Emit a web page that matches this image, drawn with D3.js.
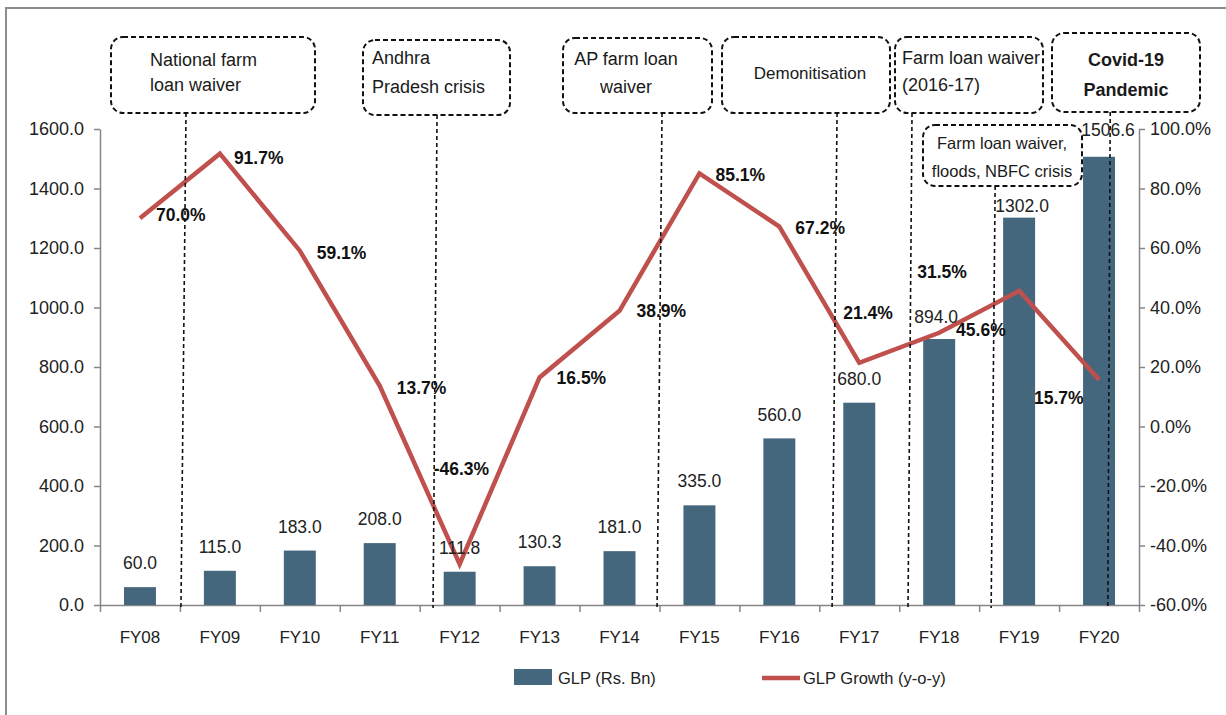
<!DOCTYPE html>
<html>
<head>
<meta charset="utf-8">
<script src="https://cdn.jsdelivr.net/npm/d3@7"></script>
<style>
  body { margin: 0; background: #fff; }
  svg { display: block; font-family: "Liberation Sans", Arial, sans-serif; }
  .axis path, .axis line { stroke: #868686; stroke-width: 1.5; }
  .axis text { fill: #222; font-size: 18px; }
</style>
</head>
<body>
<div id="chart"></div>
<script>
var categories = ["FY08", "FY09", "FY10", "FY11", "FY12", "FY13", "FY14", "FY15", "FY16", "FY17", "FY18", "FY19", "FY20"];
var glp = [60.0, 115.0, 183.0, 208.0, 111.8, 130.3, 181.0, 335.0, 560.0, 680.0, 894.0, 1302.0, 1506.6];
var growth = [70.0, 91.7, 59.1, 13.7, -46.3, 16.5, 38.9, 85.1, 67.2, 21.4, 31.5, 45.6, 15.7];
var leftTicks = [0, 200, 400, 600, 800, 1000, 1200, 1400, 1600];
var rightTicks = [-60, -40, -20, 0, 20, 40, 60, 80, 100];
var seriesNames = ["GLP (Rs. Bn)", "GLP Growth (y-o-y)"];

// event call-outs: text, box, and where the dashed line meets the axis (in category units)
var events = [
    { text: ["National farm", "loan waiver"], box: [111, 37, 204, 76], tx: 150, anchor: "start", ty: [60, 85], size: 18, top: 1.076, bottom: 1.013 },
    { text: ["Andhra", "Pradesh crisis"], box: [363, 40, 147, 75], tx: 372, anchor: "start", ty: [58, 87], size: 18, top: 4.217, bottom: 4.167 },
    { text: ["AP farm loan", "waiver"], box: [563, 38, 149, 75], tx: 626, anchor: "middle", ty: [59, 87], size: 18, top: 7.032, bottom: 6.97 },
    { text: ["Demonitisation"], box: [722, 37, 168, 76], tx: 810, anchor: "middle", ty: [73], size: 17, top: 9.222, bottom: 9.16 },
    { text: ["Farm loan waiver", "(2016-17)"], box: [895, 37, 148, 76], tx: 902, anchor: "start", ty: [58, 85], size: 18, top: 10.16, bottom: 10.11 },
    { text: ["Farm loan waiver,", "floods, NBFC crisis"], box: [923, 125, 159, 61], tx: 1002, anchor: "middle", ty: [143, 171], size: 16.5, top: 11.2, bottom: 11.15 },
    { text: ["Covid-19", "Pandemic"], box: [1052, 33, 148, 79], tx: 1126, anchor: "middle", ty: [60, 90], size: 18, bold: true, top: 12.64, bottom: 12.61 }
];

// label nudges for the growth line (dx, dy from the point)
var growthLabelOffset = [[16, -3], [14, 4], [17, 2], [17, 2], [-26, -95], [17, 0], [17, 0],
                         [16, 2], [16, 1], [-16, -50], [-22, -61], [-63, 39], [-65, 18]];
var barLabelOffset = [24, 24, 24, 24, 24, 24, 24, 24, 24, 24, 22, 12, 27];
var barLabelDx = [0, 0, 0, 0, 0, 0, 0, 0, 0, 0, -3, 3, 9];

var width = 1226, height = 715;
var plot = { left: 100, right: 1139, top: 129, bottom: 605 };

var locale = d3.formatLocale({ decimal: ".", thousands: ",", grouping: [3], currency: ["", ""], minus: "-" });
var f1 = locale.format(".1f");

var svg = d3.select("#chart").append("svg")
    .attr("width", width)
    .attr("height", height);

// outer frame (only top/left visible)
svg.append("rect")
    .attr("x", 6).attr("y", 8)
    .attr("width", 1300).attr("height", 800)
    .style("fill", "none")
    .style("stroke", "#8c8c8c")
    .style("stroke-width", 2);

var x = d3.scaleBand()
    .domain(categories)
    .range([plot.left, plot.right])
    .paddingInner(0.6)
    .paddingOuter(0.3);

var xu = d3.scaleLinear()
    .domain([0, categories.length])
    .range([plot.left, plot.right]);

var yL = d3.scaleLinear().domain([0, 1600]).range([plot.bottom, plot.top]);
var yR = d3.scaleLinear().domain([-60, 100]).range([plot.bottom, plot.top]);

function cx(d) { return x(d) + x.bandwidth() / 2; }

// axes
svg.append("g")
    .attr("class", "axis")
    .attr("transform", "translate(" + plot.left + ",0)")
    .call(d3.axisLeft(yL).tickValues(leftTicks).tickFormat(f1).tickSize(6).tickSizeOuter(0).tickPadding(10));

svg.append("g")
    .attr("class", "axis")
    .attr("transform", "translate(" + plot.right + ",0)")
    .call(d3.axisRight(yR).tickValues(rightTicks).tickFormat(function (d) { return f1(d) + "%"; }).tickSize(6).tickSizeOuter(0).tickPadding(5));

svg.append("g")
    .attr("class", "axis")
    .attr("transform", "translate(0," + plot.bottom + ")")
    .call(d3.axisBottom(xu).tickValues(d3.range(0, categories.length + 1)).tickFormat("").tickSize(7).tickSizeOuter(0));

svg.append("g").selectAll("text")
    .data(categories)
    .enter().append("text")
    .attr("x", cx)
    .attr("y", 637)
    .attr("dy", "0.35em")
    .attr("text-anchor", "middle")
    .style("font-size", "17px")
    .style("fill", "#222")
    .text(function (d) { return d; });

// bars
svg.append("g").selectAll("rect")
    .data(glp)
    .enter().append("rect")
    .attr("x", function (d, i) { return x(categories[i]); })
    .attr("y", function (d) { return yL(d); })
    .attr("width", x.bandwidth())
    .attr("height", function (d) { return yL(0) - yL(d); })
    .style("fill", "#45677e");

// growth line
var line = d3.line()
    .x(function (d, i) { return cx(categories[i]); })
    .y(function (d) { return yR(d); });

svg.append("path")
    .datum(growth)
    .attr("d", line)
    .style("fill", "none")
    .style("stroke", "#c0504d")
    .style("stroke-width", 4.5)
    .style("stroke-linejoin", "miter");

// event call-outs
var ev = svg.append("g").selectAll("g")
    .data(events)
    .enter().append("g");

ev.append("line")
    .attr("x1", function (d) { return xu(d.top); })
    .attr("x2", function (d) { return xu(d.bottom); })
    .attr("y1", function (d) { return d.box[1] + d.box[3]; })
    .attr("y2", plot.bottom + 3)
    .style("stroke", "#111")
    .style("stroke-width", 1.6)
    .style("stroke-dasharray", "4,3");

ev.append("rect")
    .attr("x", function (d) { return d.box[0]; })
    .attr("y", function (d) { return d.box[1]; })
    .attr("width", function (d) { return d.box[2]; })
    .attr("height", function (d) { return d.box[3]; })
    .attr("rx", 12)
    .style("fill", "none")
    .style("stroke", "#111")
    .style("stroke-width", 2)
    .style("stroke-dasharray", "5,3");

ev.each(function (d) {
    var g = d3.select(this);
    d.text.forEach(function (t, k) {
        g.append("text")
            .attr("x", d.tx)
            .attr("y", d.ty[k])
            .attr("dy", "0.35em")
            .attr("text-anchor", d.anchor)
            .style("font-size", d.size + "px")
            .style("font-weight", d.bold ? "bold" : "normal")
            .style("fill", "#1a1a1a")
            .text(t);
    });
});

// value labels
svg.append("g").selectAll("text")
    .data(glp)
    .enter().append("text")
    .attr("x", function (d, i) { return cx(categories[i]) + barLabelDx[i]; })
    .attr("y", function (d, i) { return yL(d) - barLabelOffset[i]; })
    .attr("dy", "0.35em")
    .attr("text-anchor", "middle")
    .style("font-size", "17.5px")
    .style("fill", "#222")
    .text(function (d) { return f1(d); });

svg.append("g").selectAll("text")
    .data(growth)
    .enter().append("text")
    .attr("x", function (d, i) { return cx(categories[i]) + growthLabelOffset[i][0]; })
    .attr("y", function (d, i) { return yR(d) + growthLabelOffset[i][1]; })
    .attr("dy", "0.35em")
    .style("font-size", "17.5px")
    .style("font-weight", "bold")
    .style("fill", "#111")
    .text(function (d) { return f1(d) + "%"; });

// legend
var legend = svg.append("g");
legend.append("rect")
    .attr("x", 514).attr("y", 669)
    .attr("width", 38).attr("height", 16)
    .style("fill", "#45677e");
legend.append("text")
    .attr("x", 558).attr("y", 678).attr("dy", "0.35em")
    .style("font-size", "16.5px").style("fill", "#222")
    .text(seriesNames[0]);
legend.append("line")
    .attr("x1", 762).attr("x2", 800)
    .attr("y1", 678).attr("y2", 678)
    .style("stroke", "#c0504d")
    .style("stroke-width", 4.5);
legend.append("text")
    .attr("x", 803).attr("y", 678).attr("dy", "0.35em")
    .style("font-size", "16.5px").style("fill", "#222")
    .text(seriesNames[1]);
</script>
</body>
</html>
